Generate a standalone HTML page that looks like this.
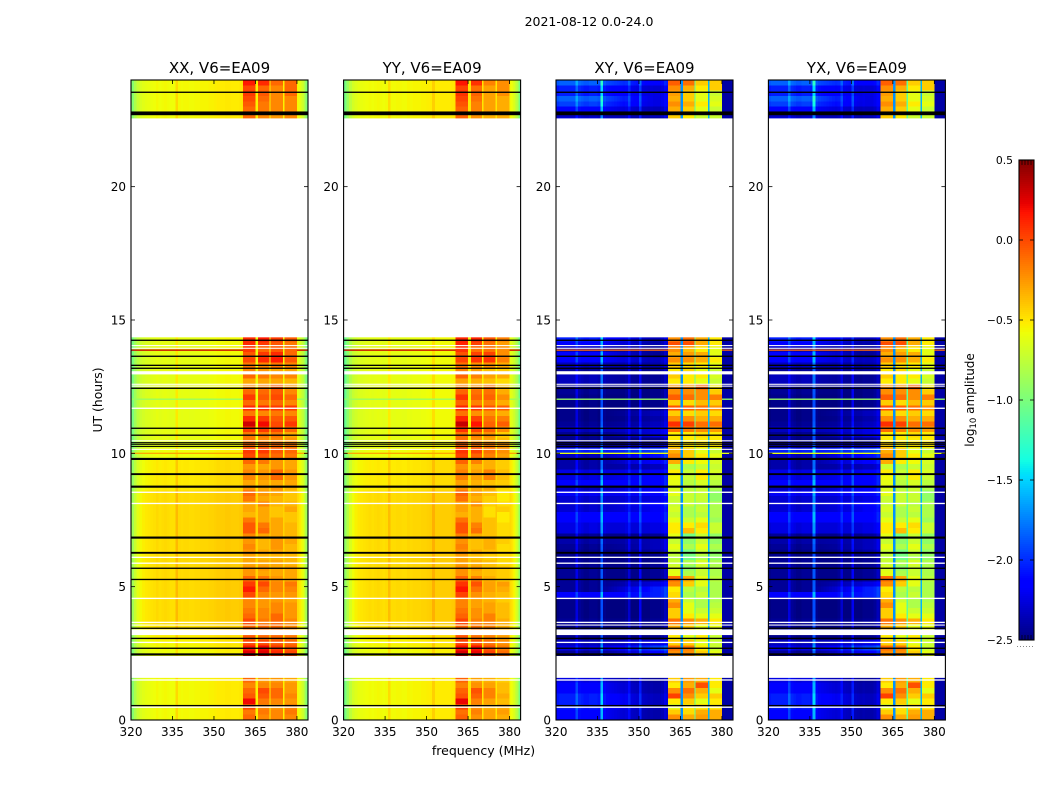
<!DOCTYPE html>
<html lang="en">
<head>
<meta charset="utf-8">
<title>2021-08-12 spectrogram panels</title>
<style>
html,body{margin:0;padding:0;background:#fff;}
svg{display:block;}
text{font-family:"DejaVu Sans","Liberation Sans",sans-serif;fill:#000;}
</style>
</head>
<body>
<svg id="figure" xmlns="http://www.w3.org/2000/svg" width="1050" height="800" viewBox="0 0 1050 800">
<rect x="0" y="0" width="1050" height="800" fill="#fff"/>
<text x="589" y="26" font-size="12.5" text-anchor="middle">2021-08-12 0.0-24.0</text>
<text x="483.5" y="755" font-size="12.5" text-anchor="middle">frequency (MHz)</text>
<text x="0" y="0" font-size="12.4" text-anchor="middle" transform="translate(102,400) rotate(-90)">UT (hours)</text>
<text x="0" y="0" font-size="12" text-anchor="middle" transform="translate(974,400) rotate(-90)">log<tspan font-size="8.5" dy="2">10</tspan><tspan dy="-2"> amplitude</tspan></text>
<g id="panels"></g>
<g id="colorbar"></g>
</svg>
<script>
// ---------- chart data (UT hours, MHz, log10 amplitude) ----------
const panelTitles = ['XX, V6=EA09', 'YY, V6=EA09', 'XY, V6=EA09', 'YX, V6=EA09'];
const panelKinds = ['xx', 'yy', 'cross', 'cross'];
const xTickLabels = [320, 335, 350, 365, 380];
const yTickLabels = [0, 5, 10, 15, 20];
const colorbarTicks = [-2.5, -2.0, -1.5, -1.0, -0.5, 0.0, 0.5];

const rowHours = [
 0,.2,.4,.6,.8,1,1.2,1.4,
 2.4,2.6,2.8,3,3.2,3.4,
 3.6,3.8,4,4.2,4.4,4.6,4.8,5,5.2,5.4,
 5.6,5.8,6,6.2,6.4,6.6,6.8,7,7.2,7.4,
 7.6,7.8,8,8.2,8.4,8.6,8.8,9,9.2,9.4,
 9.6,9.8,10,10.2,10.4,10.6,10.8,11,11.2,11.4,
 11.6,11.8,12,12.2,12.4,12.6,12.8,13,13.2,13.4,
 13.6,13.8,14,14.2,
 22.4,22.6,22.8,23,23.2,23.4,23.6,23.8];

const channelMHz = [
 320,321,322,323,324,325,326,327,328,329,
 330,331,332,333,334,335,336,337,338,339,
 340,341,342,343,344,345,346,347,348,349,
 350,351,352,353,354,355,356,357,358,359,
 360,360.5,361,361.5,362,362.5,363,363.5,364,364.5,
 365,365.5,366,366.5,367,367.5,368,368.5,369,369.5,
 370,370.5,371,371.5,372,372.5,373,373.5,374,374.5,
 375,375.5,376,376.5,377,377.5,378,378.5,379,379.5,
 380,380.5,381,381.5,382,382.5,383,383.5];

const bandStartMHz = [360.5, 366, 370.5, 375.5];
const bandEndMHz = [365, 370, 375, 380];

const parallelLevel = [
 -.6,-.6,-.6,-.6,-.6,-.6,-.6,-.6,
 -.62,-.6,-.58,-.56,-.55,-.52,
 -.5,-.5,-.5,-.5,-.5,-.5,-.5,-.5,-.5,-.5,
 -.5,-.5,-.5,-.5,-.5,-.5,-.5,-.5,-.5,-.5,
 -.5,-.5,-.5,-.5,-.5,-.55,-.55,-.55,-.55,-.55,
 -.55,-.62,-.62,-.65,-.65,-.65,-.65,-.65,-.65,-.65,
 -.65,-.65,-.65,-.65,-.65,-.65,-.65,-.65,-.65,-.65,
 -.65,-.65,-.65,-.65,
 -.6,-.6,-.6,-.6,-.6,-.6,-.6,-.6];

const parallelShape = [
 -.36,-.22,-.12,-.06,-.03,-.01,0,.01,.02,.04,
 .02,.03,.04,.03,.02,.02,.14,.04,.03,.04,
 .04,.03,.03,.04,.04,.05,.05,.05,.06,.06,
 .07,.08,.08,.08,.09,.09,.08,.08,.08,.09,
 .1,.1,.06,.06,.06,.06,.06,.06,.06,.06,
 .06,.06,.06,.06,.06,.06,.06,.06,.06,.06,
 .06,.06,.06,.06,.06,.06,.06,.06,.06,.06,
 .06,.06,.06,.06,.06,.06,.06,.06,.06,.06,
 .04,.02,-.02,-.06,-.12,-.2,-.3,-.42];

const yyShape = [
 -.42,-.28,-.16,-.08,-.04,-.01,0,.01,.02,.03,
 .02,.03,.04,.03,.02,.03,.13,.03,.03,.04,
 .04,.03,.03,.05,.04,.05,.05,.05,.06,.06,
 .07,.08,.17,.08,.08,.08,.08,.08,.08,.09,
 .1,.1,.1,.1,.1,.1,.1,.1,.1,.1,
 .1,.1,.1,.1,.1,.1,.1,.1,.1,.1,
 .1,.1,.1,.1,.1,.1,.1,.1,.1,.1,
 .1,.1,.1,.1,.1,.1,.1,.1,.1,.1,
 .04,.02,-.02,-.06,-.12,-.2,-.3,-.42];

const yyBandOffset = [.02, -.03, -.08, -.12];

const parallelBand1 = [
 -.1,-.15,0,.2,-.05,-.1,-.2,-.1,
 .25,.15,0,-.05,-.05,-.1,
 0,-.1,-.15,-.2,-.2,0,.15,.05,-.1,-.25,
 -.25,-.3,-.3,-.25,-.2,-.25,-.2,-.05,-.05,-.15,
 -.35,-.3,-.3,-.15,-.1,-.25,-.3,-.2,-.2,-.25,
 -.1,0,.05,-.1,-.15,-.15,.05,.3,.1,-.15,
 .1,-.1,.05,-.1,-.2,-.3,-.1,-.2,-.15,0,
 -.05,.05,.1,.1,
 -.1,-.1,-.1,-.05,0,.05,0,.15];
const parallelBand2 = [
 -.2,-.15,-.2,-.15,-.05,0,-.2,-.25,
 .25,.2,0,-.1,-.05,-.1,
 -.15,-.2,-.2,-.25,-.25,-.2,-.1,0,-.15,-.3,
 -.25,-.3,-.35,-.3,-.35,-.35,-.3,-.1,-.15,-.3,
 -.3,-.3,-.2,-.3,-.25,-.3,-.3,-.25,-.25,-.3,
 -.15,-.05,.05,-.1,-.2,-.15,.05,.2,.05,-.2,
 .1,-.15,-.05,-.1,-.2,-.3,-.15,-.25,-.2,.1,
 .05,-.1,.05,.15,
 -.2,-.2,-.15,-.15,-.1,-.05,-.1,.1];
const parallelBand3 = [
 -.2,-.2,-.25,-.2,-.1,-.1,-.2,-.25,
 .1,.05,-.05,-.1,-.1,-.1,
 -.1,-.1,-.2,-.2,-.25,-.25,-.2,-.2,-.25,-.3,
 -.3,-.3,-.35,-.3,-.25,-.25,-.3,-.3,-.3,-.3,
 -.4,-.4,-.35,-.35,-.3,-.25,-.3,-.1,-.1,-.25,
 -.25,-.1,-.05,-.1,-.2,-.15,0,0,-.05,-.15,
 .05,-.1,0,-.05,-.05,-.3,-.2,-.3,-.15,.15,
 .1,-.05,-.05,.05,
 -.25,-.25,-.2,-.2,-.2,-.2,-.2,-.1];
const parallelBand4 = [
 -.2,-.15,-.2,-.25,-.2,-.25,-.25,-.3,
 0,-.05,-.1,-.15,-.15,-.2,
 -.2,-.25,-.25,-.25,-.3,-.25,-.2,-.15,-.3,-.3,
 -.3,-.35,-.35,-.35,-.35,-.3,-.35,-.35,-.35,-.4,
 -.4,-.3,-.35,-.4,-.4,-.35,-.3,-.25,-.25,-.3,
 -.3,-.15,-.1,-.15,-.25,-.3,-.1,.05,-.05,-.2,
 .05,-.2,-.1,-.2,-.25,-.35,-.2,-.3,-.2,-.05,
 -.1,-.1,-.15,-.05,
 -.2,-.2,-.2,-.2,-.2,-.1,-.1,-.1];

const crossBand1 = [
 -.22,-.42,-.62,-.52,.03,-.22,-.52,-.42,
 -.22,-.12,-.42,-.52,-.22,-.32,
 -.12,-.42,-.42,-.22,-.32,-.47,-.52,-.22,-.12,-.62,
 -.67,-.72,-.77,-.72,-.62,-.72,-.62,-.52,-.52,-.62,
 -.72,-.67,-.72,-.72,-.62,-.67,-.62,-.57,-.52,-.72,
 -.32,-.22,-.32,-.42,-.52,-.52,-.12,.08,-.22,-.42,
 -.02,-.42,-.07,-.22,-.22,-.52,-.42,-.52,-.42,-.22,
 -.32,-.22,-.02,-.22,
 -.42,-.42,-.32,-.22,-.32,-.27,-.22,-.07];
const crossBand2 = [
 -.32,-.47,-.52,-.42,-.22,-.12,-.32,-.27,
 -.22,-.17,-.42,-.62,-.42,-.42,
 -.22,-.52,-.62,-.62,-.72,-.82,-.77,-.42,-.32,-.82,
 -.92,-.82,-1.02,-1.02,-.82,-.92,-1.02,-.37,-.52,-.72,
 -.82,-.82,-.72,-.72,-.72,-.77,-.77,-.72,-.72,-.82,
 -.52,-.42,-.42,-.52,-.52,-.52,-.17,.03,-.22,-.47,
 -.07,-.47,-.12,-.22,-.22,-.52,-.52,-.47,-.47,-.22,
 -.27,-.37,-.02,-.12,
 -.52,-.52,-.42,-.32,-.42,-.42,-.32,-.12];
const crossBand3 = [
 -.27,-.32,-.52,-.62,-.42,-.32,-.02,-.32,
 -.42,-.52,-.62,-.52,-.52,-.62,
 -.32,-.62,-.72,-.82,-.82,-.72,-.77,-.62,-.62,-.72,
 -.72,-.67,-.82,-.72,-.62,-.72,-.72,-.52,-.47,-.62,
 -.77,-.72,-.77,-.72,-.72,-.72,-.67,-.52,-.52,-.72,
 -.57,-.52,-.62,-.52,-.52,-.47,-.22,-.12,-.32,-.42,
 -.12,-.37,-.22,-.22,-.07,-.62,-.52,-.62,-.52,-.32,
 -.32,-.52,-.32,-.32,
 -.72,-.72,-.62,-.52,-.62,-.62,-.52,-.42];
const crossBand4 = [
 -.32,-.32,-.52,-.52,-.42,-.62,-.52,-.52,
 -.62,-.72,-.72,-.72,-.62,-.62,
 -.52,-.62,-.72,-.77,-.82,-.82,-.82,-.82,-.77,-.82,
 -.82,-.82,-.92,-.92,-.82,-.92,-.92,-.72,-.72,-.87,
 -.82,-.82,-.82,-.92,-.92,-.82,-.77,-.72,-.67,-.72,
 -.67,-.62,-.72,-.52,-.52,-.52,-.27,-.12,-.32,-.47,
 -.22,-.42,-.17,-.42,-.52,-.72,-.67,-.72,-.62,-.52,
 -.62,-.62,-.52,-.52,
 -.72,-.72,-.72,-.62,-.67,-.72,-.42,-.42];

const crossLeft = [
 -2.17,-2.17,-2.07,-2.07,-2.07,-2.17,-2.17,-2.27,
 -2.47,-2.27,-2.37,-2.5,-2.5,-2.5,
 -2.47,-2.5,-2.5,-2.5,-2.5,-2.17,-2.47,-2.47,-2.47,-2.47,
 -2.47,-2.47,-2.5,-2.5,-2.47,-2.42,-2.47,-2.27,-2.27,-2.17,
 -2.17,-2.32,-2.32,-2.32,-2.22,-2.37,-2.17,-2.27,-2.27,-2.42,
 -2.42,-2.37,-2.07,-2.47,-2.5,-2.47,-2.37,-2.47,-2.5,-2.5,
 -2.5,-2.5,-2.5,-2.47,-2.47,-2.37,-2.37,-2.47,-2.37,-2.17,
 -2.17,-2.37,-2.17,-2.07,
 -2.27,-2.37,-2.17,-1.97,-1.87,-2.07,-2.07,-1.87];
const crossRight = [
 -2.42,-2.42,-2.37,-2.37,-2.37,-2.42,-2.42,-2.47,
 -2.17,-1.97,-2.27,-2.5,-2.5,-2.5,
 -2.47,-2.5,-2.5,-2.5,-2.5,-2.07,-2.07,-2.27,-2.47,-2.47,
 -2.47,-2.47,-2.5,-2.42,-2.37,-2.37,-2.47,-2.27,-2.27,-2.17,
 -2.17,-2.22,-2.17,-2.27,-2.17,-2.17,-2.17,-2.17,-2.22,-2.37,
 -2.17,-2.12,-1.97,-2.37,-2.5,-2.27,-2.27,-2.37,-2.42,-2.37,
 -2.5,-2.5,-2.5,-2.5,-2.47,-2.47,-2.47,-2.47,-2.42,-2.37,
 -2.47,-2.47,-2.42,-2.37,
 -2.47,-2.37,-2.37,-2.27,-2.27,-2.27,-2.32,-2.17];

const crossShape = [
 0,.03,.03,.03,.03,.03,.03,.25,.06,.03,
 0,0,.03,.03,.03,0,.6,.03,0,0,
 0,0,0,0,0,.03,.2,0,0,0,
 .3,0,0,0,.03,.03,.03,.03,.06,.15,
 .1,0,0,0,0,0,0,0,0,0,
 0,0,0,0,0,0,0,0,0,0,
 0,0,0,0,0,0,0,0,0,0,
 0,0,0,0,0,0,0,0,0,0,
 0,0,0,0,0,0,0,0];
const crossGapLevels = [-1.7, -1.1, -1.6];
const crossEdgeLevel = -2.4;

// flagged integrations: zero amplitude (black) and missing (white)
const blackHours = [23.54,22.75,14.24,13.64,13.3,13.19,12.44,10.94,10.68,10.4,10.34,10.26,9.79,9.22,8.75,6.84,6.27,5.69,5.27,3.44,3.06,2.69,2.46,.54];
const blackSpans = [.05,.14,.05,.05,.05,.05,.05,.05,.05,.04,.04,.04,.08,.07,.08,.08,.07,.05,.05,.05,.05,.05,.08,.05];
const whiteHours = [14.04,13.94,13.02,12.59,12.52,11.69,10.47,10.15,8.54,8.12,6.1,5.88,4.56,3.66,3.56,3.29,2.91,1.5,.48];
const whiteSpans = [.04,.04,.12,.04,.04,.05,.04,.04,.05,.05,.05,.05,.05,.05,.04,.21,.05,.05,.05];
const gapStartHours = [1.58, 14.35];
const gapEndHours = [2.4, 22.56];

// broadband interference rows, left of the gated bands
const spikeHours = [13.87, 12.03, 10.0];
const spikeParallel = [.3, -.9, -.3];
const spikeCross = [-.1, -.9, -.6];
const spikeEndMHz = 384;

// ---------- axis functions and layout ----------
const SVG_NS = 'http://www.w3.org/2000/svg';
const panelLefts = [131, 343.6, 556, 768.4];
const panelWidth = 177;
const plotTop = 80, plotBottom = 720;
const freqMin = 320, freqMax = 384, hourMin = 0, hourMax = 24;
const cbMin = -2.5, cbMax = 0.5, cbLeft = 1019, cbRight = 1034, cbTop = 160, cbBottom = 640;
const crossBlendStart = 335, crossBlendEnd = 355;

function xScale(left, mhz) { return left + (mhz - freqMin) / (freqMax - freqMin) * panelWidth; }
function yScale(hour) { return plotBottom - (hour - hourMin) / (hourMax - hourMin) * (plotBottom - plotTop); }
function cbScale(v) { return cbBottom - (v - cbMin) / (cbMax - cbMin) * (cbBottom - cbTop); }

function ramp(x, pts) {
  for (let i = 1; i < pts.length; i++) {
    if (x <= pts[i][0]) {
      const a = pts[i - 1], b = pts[i];
      return a[1] + (b[1] - a[1]) * (x - a[0]) / (b[0] - a[0]);
    }
  }
  return pts[pts.length - 1][1];
}
const jetR = [[0,0],[.35,0],[.66,1],[.89,1],[1,.5]];
const jetG = [[0,0],[.125,0],[.375,1],[.64,1],[.91,0],[1,0]];
const jetB = [[0,.5],[.11,1],[.34,1],[.65,0],[1,0]];
function jet(v) {
  const x = Math.max(0, Math.min(1, (v - cbMin) / (cbMax - cbMin)));
  const c = [ramp(x, jetR), ramp(x, jetG), ramp(x, jetB)].map(k => Math.round(k * 255));
  return 'rgb(' + c.join(',') + ')';
}

function make(tag, attrs, parent) {
  const el = document.createElementNS(SVG_NS, tag);
  for (const k in attrs) el.setAttribute(k, attrs[k]);
  parent.appendChild(el);
  return el;
}

const parallelBands = [parallelBand1, parallelBand2, parallelBand3, parallelBand4];
const crossBands = [crossBand1, crossBand2, crossBand3, crossBand4];

function bandOf(mhz) {
  for (let b = 0; b < bandStartMHz.length; b++) {
    if (mhz >= bandStartMHz[b] && mhz < bandEndMHz[b]) return b;
  }
  return -1;
}
function gapOf(mhz) {
  for (let b = 0; b < bandEndMHz.length - 1; b++) {
    if (mhz >= bandEndMHz[b] && mhz < bandStartMHz[b + 1]) return b;
  }
  return -1;
}
function cellValue(kind, r, c) {
  const mhz = channelMHz[c];
  const band = bandOf(mhz);
  if (kind === 'xx') return band >= 0 ? parallelBands[band][r] : parallelLevel[r] + parallelShape[c];
  if (kind === 'yy') return band >= 0 ? parallelBands[band][r] + yyBandOffset[band] : parallelLevel[r] + yyShape[c];
  if (band >= 0) return crossBands[band][r];
  const gap = gapOf(mhz);
  if (gap >= 0) return crossGapLevels[gap];
  if (mhz >= bandEndMHz[3]) return crossEdgeLevel;
  const w = Math.max(0, Math.min(1, (mhz - crossBlendStart) / (crossBlendEnd - crossBlendStart)));
  return crossLeft[r] * (1 - w) + crossRight[r] * w + crossShape[c];
}

// ---------- panels ----------
const panelsRoot = document.getElementById('panels');
panelTitles.forEach(function (title, p) {
  const left = panelLefts[p], kind = panelKinds[p];
  const right = left + panelWidth;
  const g = make('g', {}, panelsRoot);
  
  

  const cells = make('g', { 'shape-rendering': 'crispEdges' }, g);
  
  
  rowHours.forEach(function (hour, r) {
    const y1 = yScale(hour), y0 = yScale(hour + 0.2);
    channelMHz.forEach(function (mhz, c) {
      const next = c + 1 < channelMHz.length ? channelMHz[c + 1] : freqMax;
      const x0 = xScale(left, mhz), x1 = xScale(left, next);
      const cell = make('rect', { x: x0, y: y0, width: x1 - x0, height: y1 - y0, fill: jet(cellValue(kind, r, c)) }, cells);
      
      
    });
  });

  spikeHours.forEach(function (hour, i) {
    const v = kind === 'cross' ? spikeCross[i] : spikeParallel[i];
    const spike = make('rect', { x: left, y: yScale(hour + .025), width: xScale(left, bandStartMHz[0]) - left, height: yScale(hour - .025) - yScale(hour + .025), fill: jet(v) }, g);
    
    
    const spikeTail = make('rect', { x: xScale(left, bandEndMHz[3]), y: yScale(hour + .025), width: xScale(left, spikeEndMHz) - xScale(left, bandEndMHz[3]), height: yScale(hour - .025) - yScale(hour + .025), fill: jet(v) }, g);
    
    
  });

  gapStartHours.forEach(function (start, i) {
    const gap = make('rect', { x: left, y: yScale(gapEndHours[i]), width: panelWidth, height: yScale(start) - yScale(gapEndHours[i]), fill: '#fff' }, g);
    
    
  });
  whiteHours.forEach(function (hour, i) {
    const s = whiteSpans[i];
    const line = make('rect', { x: left, y: yScale(hour + s / 2), width: panelWidth, height: yScale(hour - s / 2) - yScale(hour + s / 2), fill: '#fff' }, g);
    
    
  });
  blackHours.forEach(function (hour, i) {
    const s = blackSpans[i];
    const line = make('rect', { x: left, y: yScale(hour + s / 2), width: panelWidth, height: yScale(hour - s / 2) - yScale(hour + s / 2), fill: '#000' }, g);
    
    
  });

  const frame = make('rect', { x: left, y: plotTop, width: panelWidth, height: plotBottom - plotTop, fill: 'none', stroke: '#000', 'stroke-width': 1.1 }, g);
  
  

  const heading = make('text', { x: left + panelWidth / 2, y: 73, 'font-size': 15, 'text-anchor': 'middle' }, g);
  heading.textContent = title;
  
  

  xTickLabels.forEach(function (t) {
    const x = xScale(left, t);
    const bottomTick = make('line', { x1: x, x2: x, y1: plotBottom, y2: plotBottom - 4, stroke: '#000', 'stroke-width': .8 }, g);
    
    
    const topTick = make('line', { x1: x, x2: x, y1: plotTop, y2: plotTop + 4, stroke: '#000', 'stroke-width': .8 }, g);
    
    
    const label = make('text', { x: x, y: 736, 'font-size': 12, 'text-anchor': 'middle' }, g);
    label.textContent = String(t);
    
    
  });

  yTickLabels.forEach(function (t) {
    const y = yScale(t);
    const leftTick = make('line', { x1: left, x2: left + 4, y1: y, y2: y, stroke: '#000', 'stroke-width': .8 }, g);
    
    
    const rightTick = make('line', { x1: right, x2: right - 4, y1: y, y2: y, stroke: '#000', 'stroke-width': .8 }, g);
    
    
    const label = make('text', { x: left - 5, y: y + 4.5, 'font-size': 12, 'text-anchor': 'end' }, g);
    label.textContent = String(t);
    
    
  });
});

// ---------- colorbar ----------
const cbRoot = document.getElementById('colorbar');
const cbStrip = make('g', { 'shape-rendering': 'crispEdges' }, cbRoot);


for (let py = cbTop; py < cbBottom; py += 2) {
  const level = cbMax - (py + 1 - cbTop) / (cbBottom - cbTop) * (cbMax - cbMin);
  const swatch = make('rect', { x: cbLeft, y: py, width: cbRight - cbLeft, height: 2, fill: jet(level) }, cbStrip);
  
  
}
const cbFrame = make('rect', { x: cbLeft, y: cbTop, width: cbRight - cbLeft, height: cbBottom - cbTop, fill: 'none', stroke: '#000', 'stroke-width': 1.1 }, cbRoot);


colorbarTicks.forEach(function (t) {
  const y = cbScale(t);
  const tickA = make('line', { x1: cbLeft, x2: cbLeft + 4, y1: y, y2: y, stroke: '#000', 'stroke-width': .8 }, cbRoot);
  
  
  const tickB = make('line', { x1: cbRight - 4, x2: cbRight, y1: y, y2: y, stroke: '#000', 'stroke-width': .8 }, cbRoot);
  
  
  const label = make('text', { x: 1013, y: y + 4, 'font-size': 10.8, 'text-anchor': 'end' }, cbRoot);
  label.textContent = t.toFixed(1).replace('-', '\u2212');
  
  
});
[1022, 1025, 1028, 1031].forEach(function (x) {
  const topMark = make('line', { x1: x, x2: x, y1: cbTop, y2: cbTop + 5, stroke: '#000', 'stroke-width': .7 }, cbRoot);
  
  
  const bottomMark = make('line', { x1: x, x2: x, y1: cbBottom, y2: cbBottom - 5, stroke: '#000', 'stroke-width': .7 }, cbRoot);
  
  
});
const cbDots = make('line', { x1: 1017, x2: 1035, y1: 646.5, y2: 646.5, stroke: '#888', 'stroke-width': 1, 'stroke-dasharray': '1 2' }, cbRoot);


</script>
</body>
</html>
